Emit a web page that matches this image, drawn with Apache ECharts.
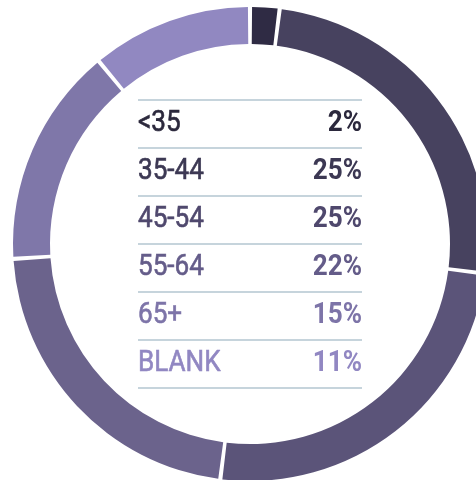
<!DOCTYPE html>
<html>
<head>
<meta charset="utf-8">
<script src="https://cdn.jsdelivr.net/npm/echarts@6/dist/echarts.min.js"></script>
<style>
  html, body { margin: 0; padding: 0; background: #fff; }
  #age-chart { width: 476px; height: 480px; }
</style>
</head>
<body>
<div id="age-chart"></div>
<script>
  // age groups and their shares (%)
  const age_groups = ["<35", "35-44", "45-54", "55-64", "65+", "BLANK"];
  const age_shares = [2, 25, 25, 22, 15, 11];

  // slice colors, dark to light
  const slice_colors = ["#2f2b44", "#47425f", "#5b5479", "#6b638c", "#7f77a9", "#9188c1"];
  // text colors for the table rows
  const text_colors = ["#2b283c", "#3c3853", "#4f486d", "#645c89", "#7d74a8", "#9187c2"];

  const chart = echarts.init(document.getElementById("age-chart"));

  // table geometry
  const table_left = 138;
  const table_right = 362;
  const table_top = 100;
  const row_h = 48;
  // squeeze the text a bit, the original uses a condensed face
  const squeeze = 0.9;

  const table = [];
  age_groups.forEach((name, i) => {
    const cy = table_top + row_h * i + row_h / 2 - 0.5;
    table.push({
      type: "text",
      x: table_left,
      y: cy,
      scaleX: squeeze,
      style: {
        text: name,
        fill: text_colors[i],
        stroke: text_colors[i],
        lineWidth: 0.6,
        font: "29px Roboto",
        align: "left",
        verticalAlign: "middle",
      },
    });
    table.push({
      type: "text",
      x: table_right,
      y: cy,
      scaleX: squeeze,
      style: {
        text: age_shares[i] + "%",
        fill: text_colors[i],
        font: "bold 29px Roboto",
        align: "right",
        verticalAlign: "middle",
      },
    });
  });
  for (let i = 0; i <= age_groups.length; i++) {
    table.push({
      type: "line",
      shape: {
        x1: table_left,
        y1: table_top + row_h * i,
        x2: table_right,
        y2: table_top + row_h * i,
      },
      style: { stroke: "#c6d4dc", lineWidth: 2 },
    });
  }

  chart.setOption({
    backgroundColor: "#ffffff",
    animation: false,
    graphic: table,
    series: [
      {
        type: "pie",
        center: [250, 244],
        radius: [200, 237],
        startAngle: 90,
        clockwise: true,
        padAngle: 1,
        label: { show: false },
        labelLine: { show: false },
        emphasis: { disabled: true },
        data: age_groups.map((name, i) => ({
          name,
          value: age_shares[i],
          itemStyle: { color: slice_colors[i] },
        })),
      },
    ],
  });
</script>
</body>
</html>
